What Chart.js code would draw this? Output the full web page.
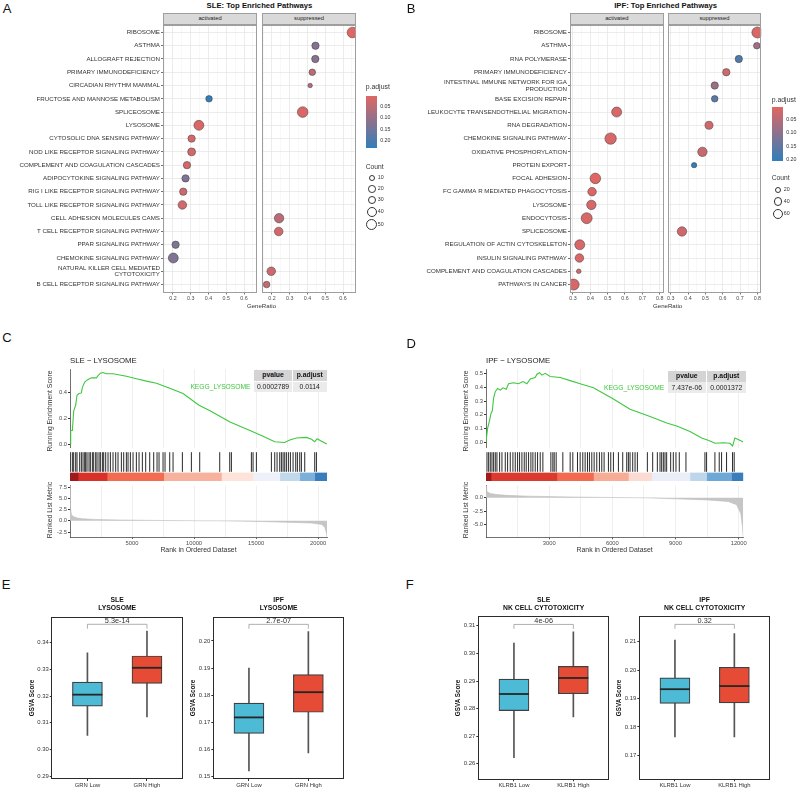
<!DOCTYPE html>
<html>
<head>
<meta charset="utf-8">
<script src="https://cdn.jsdelivr.net/npm/chart.js@4.4.1/dist/chart.umd.min.js"></script>
<style>
  body { margin: 0; background: #fff; }
  #fig { position: relative; width: 798px; height: 789px; overflow: hidden; font-family: 'Liberation Sans', Arial, sans-serif; color: #333; }
  #fig canvas { position: absolute; }
  .t { position: absolute; white-space: nowrap; line-height: 1; }
  .box { position: absolute; box-sizing: border-box; pointer-events: none; }
</style>
</head>
<body>
<div id="fig"></div>
<script>
// ===== A: SLE enriched pathways =====
const slePathways = ['RIBOSOME', 'ASTHMA', 'ALLOGRAFT REJECTION', 'PRIMARY IMMUNODEFICIENCY', 'CIRCADIAN RHYTHM MAMMAL',
  'FRUCTOSE AND MANNOSE METABOLISM', 'SPLICEOSOME', 'LYSOSOME', 'CYTOSOLIC DNA SENSING PATHWAY', 'NOD LIKE RECEPTOR SIGNALING PATHWAY',
  'COMPLEMENT AND COAGULATION CASCADES', 'ADIPOCYTOKINE SIGNALING PATHWAY', 'RIG I LIKE RECEPTOR SIGNALING PATHWAY',
  'TOLL LIKE RECEPTOR SIGNALING PATHWAY', 'CELL ADHESION MOLECULES CAMS', 'T CELL RECEPTOR SIGNALING PATHWAY',
  'PPAR SIGNALING PATHWAY', 'CHEMOKINE SIGNALING PATHWAY', ['NATURAL KILLER CELL MEDIATED', 'CYTOTOXICITY'],
  'B CELL RECEPTOR SIGNALING PATHWAY'];
const sleSide = ['suppressed', 'suppressed', 'suppressed', 'suppressed', 'suppressed', 'activated', 'suppressed', 'activated',
  'activated', 'activated', 'activated', 'activated', 'activated', 'activated', 'suppressed', 'suppressed', 'activated',
  'activated', 'suppressed', 'suppressed'];
const sleRatio = [0.653, 0.445, 0.444, 0.427, 0.415, 0.403, 0.373, 0.346, 0.305, 0.305, 0.279, 0.271, 0.258, 0.253, 0.240, 0.238, 0.215, 0.202, 0.196, 0.170];
const sleCount = [46, 18, 18, 13, 4, 13, 46, 39, 18, 22, 18, 18, 18, 27, 34, 27, 18, 39, 27, 13];
const slePadj = [0.002, 0.120, 0.118, 0.050, 0.060, 0.229, 0.010, 0.010, 0.020, 0.020, 0.020, 0.130, 0.030, 0.020, 0.050, 0.020, 0.130, 0.125, 0.030, 0.040];
const sleCountBreaks = [10, 20, 30, 40, 50];

// ===== B: IPF enriched pathways =====
const ipfPathways = ['RIBOSOME', 'ASTHMA', 'RNA POLYMERASE', 'PRIMARY IMMUNODEFICIENCY', ['INTESTINAL IMMUNE NETWORK FOR IGA', 'PRODUCTION'],
  'BASE EXCISION REPAIR', 'LEUKOCYTE TRANSENDOTHELIAL MIGRATION', 'RNA DEGRADATION', 'CHEMOKINE SIGNALING PATHWAY',
  'OXIDATIVE PHOSPHORYLATION', 'PROTEIN EXPORT', 'FOCAL ADHESION', 'FC GAMMA R MEDIATED PHAGOCYTOSIS', 'LYSOSOME', 'ENDOCYTOSIS',
  'SPLICEOSOME', 'REGULATION OF ACTIN CYTOSKELETON', 'INSULIN SIGNALING PATHWAY', 'COMPLEMENT AND COAGULATION CASCADES', 'PATHWAYS IN CANCER'];
const ipfSide = ['suppressed', 'suppressed', 'suppressed', 'suppressed', 'suppressed', 'suppressed', 'activated', 'suppressed',
  'activated', 'suppressed', 'suppressed', 'activated', 'activated', 'activated', 'activated', 'suppressed', 'activated',
  'activated', 'activated', 'activated'];
const ipfRatio = [0.800, 0.797, 0.693, 0.621, 0.554, 0.554, 0.552, 0.521, 0.517, 0.483, 0.435, 0.429, 0.410, 0.406, 0.379, 0.365, 0.339, 0.337, 0.333, 0.304];
const ipfCount = [65, 20, 26, 26, 26, 20, 53, 32, 71, 46, 12, 60, 37, 46, 65, 46, 53, 37, 8, 65];
const ipfPadj = [0.010, 0.075, 0.170, 0.020, 0.080, 0.160, 0.010, 0.020, 0.010, 0.030, 0.204, 0.001, 0.010, 0.010, 0.010, 0.020, 0.010, 0.010, 0.020, 0.010];
const ipfCountBreaks = [20, 40, 60];

// ===== C: SLE - LYSOSOME GSEA =====
const sleEsRank = [0, 56, 190, 300, 460, 565, 725, 920, 1000, 1185, 1450, 1725, 2130, 2260, 2450, 2660, 2935, 3470, 4010, 4550, 5355, 6160,
  6970, 8040, 9115, 10400, 11290, 12900, 14510, 15560, 16510, 17310, 17720, 18260, 19065, 19470, 19735, 19920, 20280, 20700];
const sleEsScore = [0, 0.104, 0.104, 0.255, 0.300, 0.375, 0.388, 0.393, 0.436, 0.477, 0.497, 0.509, 0.509, 0.526, 0.545, 0.550, 0.540, 0.540,
  0.531, 0.521, 0.502, 0.484, 0.468, 0.429, 0.388, 0.298, 0.255, 0.170, 0.104, 0.060, 0.017, 0.012, 0.031, 0.046, 0.051, 0.036, 0.017,
  0.041, 0.022, 0.0];
const sleHits = [30, 190, 297, 459, 566, 781, 916, 1050, 1184, 1265, 1373, 1534, 1641, 1803, 1910, 2071, 2179, 2340, 2448, 2609, 2717,
  2878, 3066, 3254, 3469, 3684, 3872, 4141, 4329, 4544, 4679, 4867, 5082, 5351, 5566, 5835, 6103, 6426, 6749, 7017, 7179, 7501, 7662,
  8039, 8308, 9060, 9786, 10458, 12071, 12877, 13012, 14624, 14759, 15028, 16237, 16506, 16694, 16909, 17044, 17178, 17312, 17447,
  17608, 17769, 17984, 18199, 18334, 18522, 18656, 18925, 19731, 19866];
const sleBarBreaks = [0, 647, 2985, 7555, 12205, 14760, 16910, 18520, 19730, 20720];
const sleMetricRank = [0, 10, 40, 120, 300, 600, 1000, 2000, 4000, 7000, 10000, 12000, 14000, 16000, 18000, 19500, 20300, 20550, 20680, 20720];
const sleMetricValue = [7.8, 4.5, 3.0, 1.3, 0.9, 0.6, 0.45, 0.3, 0.18, 0.08, 0.02, 0.0, -0.08, -0.2, -0.35, -0.5, -0.8, -1.5, -2.8, -3.6];

// ===== D: IPF - LYSOSOME GSEA =====
const ipfEsRank = [0, 76, 170, 237, 300, 360, 441, 550, 678, 806, 962, 1071, 1308, 1545, 1754, 1943, 2100, 2337, 2417, 2540, 2654, 2811,
  3048, 3522, 3996, 4470, 5100, 6049, 6840, 7788, 8580, 9055, 9684, 10240, 10550, 10870, 11263, 11580, 11710, 11818, 11975, 12217];
const ipfEsScore = [0, 0.100, 0.159, 0.210, 0.229, 0.322, 0.369, 0.392, 0.380, 0.397, 0.387, 0.427, 0.434, 0.427, 0.443, 0.427, 0.462,
  0.473, 0.497, 0.508, 0.490, 0.503, 0.480, 0.473, 0.450, 0.427, 0.397, 0.315, 0.240, 0.187, 0.140, 0.117, 0.077, 0.030, 0.014, -0.009,
  -0.005, -0.009, -0.028, 0.030, 0.019, 0.0];
const ipfHits = [46, 125, 204, 283, 362, 441, 520, 646, 757, 915, 1026, 1152, 1278, 1389, 1500, 1594, 1705, 1816, 1910, 2021, 2132, 2226,
  2337, 2448, 2574, 2700, 3080, 3174, 3238, 3332, 3648, 3996, 4122, 4344, 4470, 4596, 4707, 4818, 4912, 5023, 5134, 5260, 5386, 5497,
  5608, 5813, 5924, 6050, 6287, 6492, 6682, 6761, 6840, 6966, 7077, 7188, 7662, 7914, 8136, 8262, 8341, 8420, 8499, 8578, 8768, 8894,
  9020, 9178, 9494, 10395, 10474, 10869, 11074, 11185, 11422, 11706, 11785];
const ipfBarBreaks = [0, 236, 3364, 5102, 6761, 7867, 9684, 10474, 11659, 12217];
const ipfMetricRank = [0, 15, 40, 200, 500, 1000, 2000, 4000, 6000, 7500, 9000, 10500, 11500, 11900, 12100, 12180, 12217];
const ipfMetricValue = [2.2, 1.7, 1.2, 0.8, 0.6, 0.45, 0.3, 0.15, 0.05, 0.0, -0.2, -0.4, -0.7, -1.3, -3.0, -5.5, -7.4];

// ===== E / F: GSVA box plots [min, q1, median, q3, max] =====
const grnGroups = ['GRN Low', 'GRN High'];
const klrbGroups = ['KLRB1 Low', 'KLRB1 High'];
const sleLysoLow = [0.3053, 0.3162, 0.3205, 0.3252, 0.3361];
const sleLysoHigh = [0.3122, 0.3247, 0.3305, 0.3349, 0.3442];
const ipfLysoLow = [0.1521, 0.1659, 0.1718, 0.1771, 0.1900];
const ipfLysoHigh = [0.1587, 0.1737, 0.1811, 0.1876, 0.2034];
const sleNkLow = [0.2622, 0.2793, 0.2853, 0.2907, 0.3037];
const sleNkHigh = [0.2770, 0.2854, 0.2911, 0.2953, 0.3078];
const ipfNkLow = [0.1765, 0.1883, 0.1933, 0.1973, 0.2106];
const ipfNkHigh = [0.1765, 0.1885, 0.1944, 0.2010, 0.2129];
const boxPvalues = ['5.3e-14', '2.7e-07', '4e-06', '0.32'];

// ---------- styles ----------
const rankColorsSle = ['#a01a1c', '#d8312a', '#f26c50', '#f8b19c', '#fde3da', '#eef1fa', '#c2d9ec', '#7db0d8', '#3a7dbd'];
const rankColorsIpf = ['#a01a1c', '#db3a2e', '#f26b50', '#f7ad95', '#fcdcd2', '#e9eef9', '#bed6ea', '#6ea8d6', '#3a7dbd'];
const LOW_COL = [224, 102, 99], HIGH_COL = [50, 126, 186];
const BOX_FILL = ['#4DBBD5', '#E64B35'];
const FONT = "'Liberation Sans', Arial, sans-serif";

Chart.defaults.font.family = FONT;
Chart.defaults.font.size = 5.5;
Chart.defaults.color = '#4d4d4d';

const fig = document.getElementById('fig');

function txt(s, x, y, size, o = {}) {
  const d = document.createElement('div');
  d.className = 't';
  d.textContent = s;
  const ax = o.align === 'left' ? '0' : o.align === 'right' ? '-100%' : '-50%';
  d.style.cssText = `left:${x}px;top:${y}px;font-size:${size}px;font-weight:${o.bold ? 'bold' : 'normal'};` +
    `color:${o.color || '#333'};transform:translate(${ax},-50%)${o.rot ? ' rotate(-90deg)' : ''}`;
  fig.appendChild(d);
}

function rect(x, y, w, h, css) {
  const d = document.createElement('div');
  d.className = 'box';
  d.style.cssText = `left:${x}px;top:${y}px;width:${w}px;height:${h}px;${css}`;
  fig.appendChild(d);
}

// canvas box [x0,y0,x1,y1], plot area [px0,py0,px1,py1] (page px)
function place(box, plot, cfg) {
  const [x0, y0, x1, y1] = box, [px0, py0, px1, py1] = plot;
  const cv = document.createElement('canvas');
  cv.width = x1 - x0;
  cv.height = y1 - y0;
  cv.style.left = x0 + 'px';
  cv.style.top = y0 + 'px';
  fig.appendChild(cv);
  const o = cfg.options;
  Object.assign(o, {
    responsive: false, animation: false, events: [], devicePixelRatio: 1,
    layout: { autoPadding: false, padding: { left: 0, top: py0 - y0, right: x1 - px1, bottom: 0 } }
  });
  o.plugins = Object.assign({ legend: { display: false }, tooltip: { enabled: false } }, o.plugins || {});
  o.scales.x.afterFit = s => { s.height = y1 - py1; };
  o.scales.y.afterFit = s => { s.width = px0 - x0; };
  return new Chart(cv, cfg);
}

const hidden = extra => Object.assign({ display: true, ticks: { display: false }, grid: { display: false }, border: { display: false } }, extra);
const isMajor = v => Math.abs(v * 10 - Math.round(v * 10)) < 1e-6;

function padjColor(p, lo, hi) {
  const t = Math.max(0, Math.min(1, (p - lo) / (hi - lo)));
  return 'rgb(' + LOW_COL.map((a, k) => Math.round(a + (HIGH_COL[k] - a) * t)).join(',') + ')';
}

// ---------- dot plots ----------
function bubblePanel(box, plot, names, side, ratio, count, padj, which, xr, grid, showY, rfun) {
  const lo = Math.min(...padj), hi = Math.max(...padj);
  const pts = [], cols = [];
  names.forEach((n, i) => {
    if (side[i] !== which) return;
    pts.push({ x: ratio[i], y: i + 1, r: rfun(count[i]) });
    cols.push(padjColor(padj[i], lo, hi));
  });
  place(box, plot, {
    type: 'bubble',
    data: { datasets: [{ data: pts, backgroundColor: cols, borderColor: '#3a3a3a', borderWidth: 0.5 }] },
    options: {
      scales: {
        x: {
          type: 'linear', min: xr[0], max: xr[1],
          afterBuildTicks: s => { s.ticks = grid.map(v => ({ value: v })); },
          ticks: { autoSkip: false, maxRotation: 0, padding: 0.5, font: { size: 5.3 }, callback: v => isMajor(v) ? v.toFixed(1) : '' },
          grid: {
            color: c => isMajor(c.tick.value) ? '#e4e4e4' : '#f1f1f1',
            lineWidth: c => isMajor(c.tick.value) ? 0.7 : 0.5,
            tickLength: 2,
            tickColor: c => isMajor(c.tick.value) ? '#333' : 'rgba(0,0,0,0)'
          },
          border: { display: false }
        },
        y: {
          type: 'linear', min: 0.4, max: names.length + 0.6, reverse: true,
          afterBuildTicks: s => { s.ticks = names.map((n, i) => ({ value: i + 1 })); },
          ticks: { display: showY, autoSkip: false, padding: 1, color: '#333', font: { size: 6.2, lineHeight: 1.1 }, callback: v => names[v - 1] },
          grid: { color: '#e4e4e4', lineWidth: 0.7, drawTicks: showY, tickLength: 2, tickColor: '#333' },
          border: { display: false }
        }
      }
    }
  });
}

function dotFigure(p) {
  bubblePanel(p.boxA, p.plotA, p.names, p.side, p.ratio, p.count, p.padj, 'activated', p.xr, p.grid, true, p.rfun);
  bubblePanel(p.boxS, p.plotS, p.names, p.side, p.ratio, p.count, p.padj, 'suppressed', p.xr, p.grid, false, p.rfun);
  [[p.plotA, 'activated'], [p.plotS, 'suppressed']].forEach(([pl, lab]) => {
    const w = pl[2] - pl[0];
    rect(pl[0], 13, w, pl[1] - 13 + 0.5, 'background:#d9d9d9;border:0.8px solid #9e9e9e');
    txt(lab, pl[0] + w / 2, 18.8, 5.8, { color: '#1a1a1a' });
    rect(pl[0], pl[1], w, pl[3] - pl[1], 'border:0.8px solid #9e9e9e');
  });
  txt(p.title, (p.plotA[0] + p.plotS[2]) / 2, 6, 7.7, { bold: true, color: '#111' });
  txt('GeneRatio', (p.plotA[0] + p.plotS[2]) / 2 + 2, 305.7, 6.1);
  // colour legend
  const lo = Math.min(...p.padj), hi = Math.max(...p.padj);
  const L = p.legend;
  txt('p.adjust', L.x, L.titleY, 6.9, { align: 'left' });
  rect(L.x + 0.5, L.barY, 11, L.barH, `background:linear-gradient(${padjColor(lo, lo, hi)}, ${padjColor(hi, lo, hi)})`);
  [0.05, 0.10, 0.15, 0.20].forEach(v => txt(v.toFixed(2), L.x + 14.5, L.barY + (v - lo) / (hi - lo) * L.barH, 5.3, { align: 'left' }));
  // size legend
  txt('Count', L.x, L.countY, 6.7, { align: 'left' });
  p.breaks.forEach((c, i) => {
    const r = p.rfun(c), cy = L.keyY[i];
    rect(L.x + 6.3 - r, cy - r, 2 * r, 2 * r, 'border:0.7px solid #333;border-radius:50%;background:#fff');
    txt(String(c), L.x + 12, cy, 5.3, { align: 'left' });
  });
}

dotFigure({
  title: 'SLE: Top Enriched Pathways', names: slePathways, side: sleSide, ratio: sleRatio, count: sleCount, padj: slePadj,
  breaks: sleCountBreaks, rfun: c => 0.98 + 0.64 * Math.sqrt(c),
  boxA: [0, 20, 262, 302], plotA: [163, 24.5, 257, 292.5],
  boxS: [258, 20, 362, 302], plotS: [262, 24.5, 356, 292.5],
  xr: [0.144, 0.673], grid: [0.15, 0.2, 0.25, 0.3, 0.35, 0.4, 0.45, 0.5, 0.55, 0.6, 0.65],
  legend: { x: 365.7, titleY: 87.3, barY: 96, barH: 52, countY: 166.7, keyY: [178.3, 189, 200, 212.3, 225] }
});

dotFigure({
  title: 'IPF: Top Enriched Pathways', names: ipfPathways, side: ipfSide, ratio: ipfRatio, count: ipfCount, padj: ipfPadj,
  breaks: ipfCountBreaks, rfun: c => 0.57 + 0.61 * Math.sqrt(c),
  boxA: [400, 20, 667, 302], plotA: [570, 24.5, 663.5, 292.5],
  boxS: [664, 20, 766, 302], plotS: [667.7, 24.5, 761.2, 292.5],
  xr: [0.2827, 0.8222], grid: [0.3, 0.35, 0.4, 0.45, 0.5, 0.55, 0.6, 0.65, 0.7, 0.75, 0.8],
  legend: { x: 771.7, titleY: 100, barY: 107, barH: 54, countY: 178.3, keyY: [190, 201.7, 214] }
});

// ---------- GSEA plots ----------
function gsea(g) {
  const px0 = g.px0, px1 = g.px1;
  const c0 = Math.floor(px0), c1 = Math.ceil(px1);
  // running enrichment score
  place([px0 - 30, 362, c1 + 2, 452], [px0, 369, px1, 452], {
    type: 'line',
    data: { datasets: [{ data: g.esRank.map((r, i) => ({ x: r, y: g.esScore[i] })), borderColor: '#3ec83e', borderWidth: 1.1, pointRadius: 0, fill: false }] },
    options: {
      scales: {
        x: {
          type: 'linear', min: 0, max: g.max,
          afterBuildTicks: s => { s.ticks = g.grid.map(v => ({ value: v })); },
          ticks: { display: false }, grid: { color: '#ebebeb', lineWidth: 0.8, drawTicks: false }, border: { display: false }
        },
        y: {
          type: 'linear', min: g.esRange[0], max: g.esRange[1],
          afterBuildTicks: s => { s.ticks = g.esTicks.map(v => ({ value: v })); },
          ticks: { padding: 1, font: { size: 5.8 }, callback: v => v.toFixed(1) },
          grid: { drawOnChartArea: false, tickLength: 2, tickColor: '#333' },
          border: { color: '#333', width: 0.7 }
        }
      }
    }
  });
  // gene hits
  place([c0, 452, c1, 472], [px0, 452, px1, 472], {
    type: 'scatter',
    data: { datasets: [{ data: g.hits.map(r => ({ x: r, y: 0.5 })), pointStyle: 'line', pointRotation: 90, pointRadius: 9.8, pointBorderColor: '#111', pointBorderWidth: 0.9 }] },
    options: { scales: { x: hidden({ type: 'linear', min: 0, max: g.max }), y: hidden({ type: 'linear', min: 0, max: 1 }) } }
  });
  // rank colour strip
  place([c0, 472, c1, 481], [px0, 472.5, px1, 481], {
    type: 'bar',
    data: {
      labels: [''],
      datasets: g.colors.map((c, i) => ({ data: [[g.breaks[i], g.breaks[i + 1]]], backgroundColor: c, borderWidth: 0, barPercentage: 1, categoryPercentage: 1, grouped: false }))
    },
    options: { indexAxis: 'y', scales: { x: hidden({ type: 'linear', min: 0, max: g.max }), y: hidden({ type: 'category' }) } }
  });
  // ranked list metric
  place([px0 - 30, 481, c1 + 8, 549], [px0, 481, px1, g.metricBottom], {
    type: 'line',
    data: { datasets: [{ data: g.mRank.map((r, i) => ({ x: r, y: g.mValue[i] })), borderColor: '#bdbdbd', borderWidth: 0.6, backgroundColor: '#c6c6c6', fill: 'origin', pointRadius: 0 }] },
    options: {
      scales: {
        x: {
          type: 'linear', min: 0, max: g.max,
          afterBuildTicks: s => { s.ticks = g.grid.map(v => ({ value: v })); },
          ticks: { padding: 1, font: { size: 5.8 }, maxRotation: 0, autoSkip: false, callback: v => g.xTicks.includes(v) ? String(v) : '' },
          grid: { color: '#ebebeb', lineWidth: 0.8, tickLength: 2, tickColor: c => g.xTicks.includes(c.tick.value) ? '#333' : 'rgba(0,0,0,0)' },
          border: { color: '#333', width: 0.7 }
        },
        y: {
          type: 'linear', min: g.mRange[0], max: g.mRange[1],
          afterBuildTicks: s => { s.ticks = g.mTicks.map(v => ({ value: v })); },
          ticks: { padding: 1, font: { size: 5.8 }, callback: v => v.toFixed(1) },
          grid: { drawOnChartArea: false, tickLength: 2, tickColor: '#333' },
          border: { color: '#333', width: 0.7 }
        }
      }
    }
  });
  txt(g.title, px0, 361, 7.8, { align: 'left', color: '#222' });
  txt('Running Enrichment Score', px0 - 20, 411, 6.8, { rot: true, color: '#333' });
  txt('Ranked List Metric', px0 - 20, 510, 6.8, { rot: true, color: '#333' });
  txt('Rank in Ordered Dataset', (px0 + px1) / 2, 550, 6.9);
  // result table
  const T = g.table;
  rect(T.x, T.y, T.w1, T.h1, 'background:#d4d4d4');
  rect(T.x + T.w1 + 1, T.y, T.w2, T.h1, 'background:#d4d4d4');
  rect(T.x, T.y + T.h1 + 0.8, T.w1, T.h2, 'background:#ebebeb');
  rect(T.x + T.w1 + 1, T.y + T.h1 + 0.8, T.w2, T.h2, 'background:#ebebeb');
  txt('pvalue', T.x + T.w1 / 2, T.y + T.h1 / 2, 6.8, { bold: true, color: '#111' });
  txt('p.adjust', T.x + T.w1 + 1 + T.w2 / 2, T.y + T.h1 / 2, 6.8, { bold: true, color: '#111' });
  txt(g.pvalue, T.x + T.w1 / 2, T.y + T.h1 + 0.8 + T.h2 / 2, 6.8, { color: '#222' });
  txt(g.padjust, T.x + T.w1 + 1 + T.w2 / 2, T.y + T.h1 + 0.8 + T.h2 / 2, 6.8, { color: '#222' });
  txt('KEGG_LYSOSOME', T.x - 3.5, T.y + T.h1 + 0.8 + T.h2 / 2, 6.7, { align: 'right', color: '#3ec83e' });
}

gsea({
  title: 'SLE − LYSOSOME', px0: 70, px1: 327, max: 20720,
  esRank: sleEsRank, esScore: sleEsScore, esRange: [-0.027, 0.577], esTicks: [0, 0.2, 0.4],
  hits: sleHits, breaks: sleBarBreaks, colors: rankColorsSle,
  mRank: sleMetricRank, mValue: sleMetricValue, mRange: [-3.6, 7.85], mTicks: [-2.5, 0, 2.5, 5, 7.5], metricBottom: 537,
  xTicks: [5000, 10000, 15000, 20000], grid: [2500, 5000, 7500, 10000, 12500, 15000, 17500, 20000],
  pvalue: '0.0002789', padjust: '0.0114',
  table: { x: 254, y: 370, w1: 38, w2: 33.5, h1: 10.7, h2: 10.8 }
});

gsea({
  title: 'IPF − LYSOSOME', px0: 486, px1: 743.3, max: 12217,
  esRank: ipfEsRank, esScore: ipfEsScore, esRange: [-0.04, 0.535], esTicks: [0, 0.1, 0.2, 0.3, 0.4, 0.5],
  hits: ipfHits, breaks: ipfBarBreaks, colors: rankColorsIpf,
  mRank: ipfMetricRank, mValue: ipfMetricValue, mRange: [-7.4, 2.3], mTicks: [-5, -2.5, 0], metricBottom: 537.3,
  xTicks: [3000, 6000, 9000, 12000], grid: [1500, 3000, 4500, 6000, 7500, 9000, 10500, 12000],
  pvalue: '7.437e-06', padjust: '0.0001372',
  table: { x: 667.7, y: 370.7, w1: 38.3, w2: 38.7, h1: 10.9, h2: 10.9 }
});

// ---------- GSVA box plots ----------
const boxExtras = {
  id: 'boxExtras',
  afterDatasetsDraw(chart, args, o) {
    const { ctx } = chart, y = chart.scales.y, bars = chart.getDatasetMeta(0).data;
    ctx.save();
    ctx.strokeStyle = '#262626';
    ctx.lineWidth = 1.8;
    o.medians.forEach((m, i) => {
      const b = bars[i], py = y.getPixelForValue(m);
      ctx.beginPath();
      ctx.moveTo(b.x - b.width / 2, py);
      ctx.lineTo(b.x + b.width / 2, py);
      ctx.stroke();
    });
    const by = y.getPixelForValue(o.at), xa = bars[0].x, xb = bars[1].x;
    ctx.strokeStyle = '#8c8c8c';
    ctx.lineWidth = 0.7;
    ctx.beginPath();
    ctx.moveTo(xa, by + 4.4);
    ctx.lineTo(xa, by);
    ctx.lineTo(xb, by);
    ctx.lineTo(xb, by + 4.4);
    ctx.stroke();
    ctx.fillStyle = '#333';
    ctx.font = '7.3px ' + FONT;
    ctx.textAlign = 'center';
    ctx.fillText(o.label, (xa + xb) / 2, by - 1);
    ctx.restore();
  }
};

function boxPanel(box, plot, groups, stats, yr, yticks, pLabel, pAt, title) {
  place(box, plot, {
    type: 'bar',
    data: {
      datasets: [
        { data: stats.map((s, i) => ({ x: i + 1, y: [s[1], s[3]] })), backgroundColor: BOX_FILL, borderColor: '#404040', borderWidth: 1.2, borderSkipped: false, barThickness: 30, grouped: false },
        { data: stats.map((s, i) => ({ x: i + 1, y: [s[0], s[4]] })), backgroundColor: '#555', borderWidth: 0, barThickness: 1, grouped: false }
      ]
    },
    options: {
      plugins: { boxExtras: { medians: stats.map(s => s[2]), label: pLabel, at: pAt } },
      scales: {
        x: {
          type: 'linear', min: 0.4, max: 2.6, offset: false,
          afterBuildTicks: s => { s.ticks = groups.map((g, i) => ({ value: i + 1 })); },
          ticks: { padding: 1, font: { size: 5.9 }, color: '#333', maxRotation: 0, callback: v => groups[v - 1] },
          grid: { offset: false, drawOnChartArea: false, tickLength: 2, tickColor: '#333' },
          border: { display: false }
        },
        y: {
          type: 'linear', min: yr[0], max: yr[1],
          afterBuildTicks: s => { s.ticks = yticks.map(v => ({ value: v })); },
          ticks: { padding: 1, font: { size: 5.9 }, color: '#333', callback: v => v.toFixed(2) },
          grid: { drawOnChartArea: false, tickLength: 2, tickColor: '#333' },
          border: { display: false }
        }
      }
    },
    plugins: [boxExtras]
  });
  const [px0, py0, px1, py1] = plot, cx = (px0 + px1) / 2;
  rect(px0 - 0.5, py0 - 0.5, px1 - px0 + 1, py1 - py0 + 1, 'border:1px solid #2b2b2b');
  txt(title[0], cx, 600, 6.8, { bold: true, color: '#111' });
  txt(title[1], cx, 608, 6.8, { bold: true, color: '#111' });
  txt('GSVA Score', px0 - 20, (py0 + py1) / 2, 6.3, { bold: true, rot: true, color: '#111' });
}

boxPanel([20, 612, 186, 790], [51.7, 617.3, 182.7, 779], grnGroups, [sleLysoLow, sleLysoHigh],
  [0.2891, 0.3493], [0.29, 0.30, 0.31, 0.32, 0.33, 0.34], boxPvalues[0], 0.3467, ['SLE', 'LYSOSOME']);
boxPanel([180, 612, 348, 790], [213.3, 617.3, 344, 779], grnGroups, [ipfLysoLow, ipfLysoHigh],
  [0.1491, 0.2087], [0.15, 0.16, 0.17, 0.18, 0.19, 0.20], boxPvalues[1], 0.2061, ['IPF', 'LYSOSOME']);
boxPanel([446, 612, 612, 790], [478.3, 616.7, 609, 779.3], klrbGroups, [sleNkLow, sleNkHigh],
  [0.2544, 0.3133], [0.26, 0.27, 0.28, 0.29, 0.30, 0.31], boxPvalues[2], 0.3105, ['SLE', 'NK CELL CYTOTOXICITY']);
boxPanel([606, 612, 774, 790], [639.3, 616.7, 770, 779.3], klrbGroups, [ipfNkLow, ipfNkHigh],
  [0.1616, 0.2188], [0.17, 0.18, 0.19, 0.20, 0.21], boxPvalues[3], 0.2161, ['IPF', 'NK CELL CYTOTOXICITY']);

// panel letters
[['A', 7, 7.5], ['B', 411, 7.5], ['C', 7, 337.2], ['D', 411.3, 342.8], ['E', 6, 583.5], ['F', 409.7, 583.5]]
  .forEach(([l, x, y]) => txt(l, x, y, 13, { color: '#111' }));
</script>
</body>
</html>
